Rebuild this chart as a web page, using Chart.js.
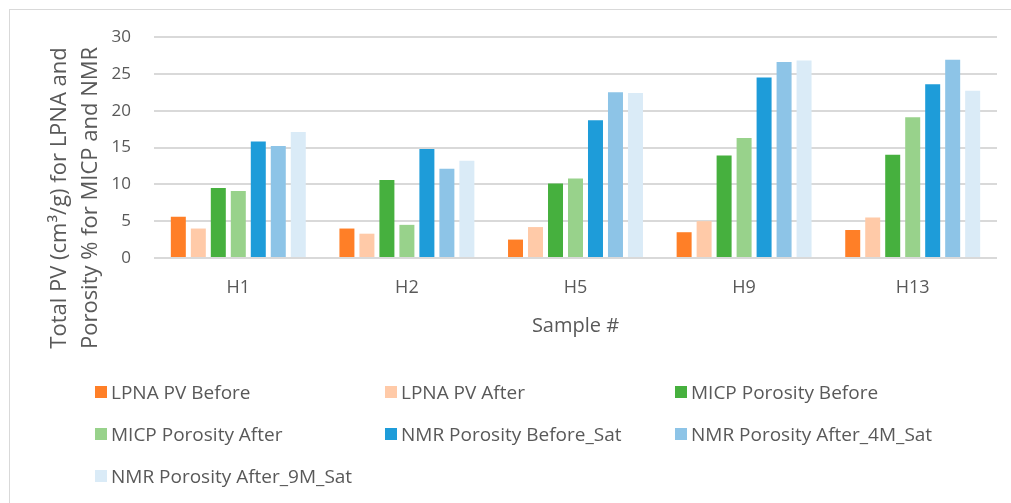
<!DOCTYPE html>
<html>
<head>
<meta charset="utf-8">
<script src="https://cdn.jsdelivr.net/npm/chart.js@4/dist/chart.umd.min.js"></script>
<style>
  html, body { margin: 0; padding: 0; background: #fff; overflow: hidden; }
  #wrap { position: relative; width: 1011px; height: 503px; font-family: "Open Sans", sans-serif; }
  #frame { position: absolute; left: 9px; top: 9px; width: 1200px; height: 700px;
           border: 1px solid #d9d9d9; box-sizing: border-box; }
  #chart { position: absolute; left: 0; top: 0; }
  #legend { position: absolute; left: 95px; top: 371px;
            display: grid; grid-template-columns: 290px 290px 290px; grid-auto-rows: 42px; }
  .item { display: flex; align-items: center; font-size: 19px; color: #595959; white-space: nowrap; }
  .swatch { width: 12px; height: 12px; margin-right: 4px; flex: none; }
</style>
</head>
<body>
<div id="wrap">
  <div id="frame"></div>
  <canvas id="chart" width="1011" height="503"></canvas>
  <div id="legend"></div>
</div>
<script>
// Samples and measured values per method
const categories = ['H1', 'H2', 'H5', 'H9', 'H13'];
const lpnaBefore  = [5.6, 4.0, 2.5, 3.5, 3.8];
const lpnaAfter   = [4.0, 3.3, 4.2, 5.0, 5.5];
const micpBefore  = [9.5, 10.6, 10.1, 13.9, 14.0];
const micpAfter   = [9.1, 4.5, 10.8, 16.3, 19.1];
const nmrBefore   = [15.8, 14.8, 18.7, 24.5, 23.6];
const nmrAfter4M  = [15.2, 12.1, 22.5, 26.6, 26.9];
const nmrAfter9M  = [17.1, 13.2, 22.4, 26.8, 22.7];

const seriesNames = ['LPNA PV Before', 'LPNA PV After', 'MICP Porosity Before', 'MICP Porosity After',
                     'NMR Porosity Before_Sat', 'NMR Porosity After_4M_Sat', 'NMR Porosity After_9M_Sat'];
const seriesValues = [lpnaBefore, lpnaAfter, micpBefore, micpAfter, nmrBefore, nmrAfter4M, nmrAfter9M];
const seriesColors = ['#FF7F27', '#FFCAA8', '#46B03E', '#98D28B', '#1E9CD9', '#8DC4E7', '#DAEBF7'];

const yMin = 0, yMax = 30, yStep = 5;
const yTitleLines = ['Total PV (cm\u00B3/g) for LPNA and', 'Porosity % for MICP and NMR'];
const xTitle = 'Sample #';

const textColor = '#595959';
const fontFamily = '"Open Sans", sans-serif';

// Axis titles drawn at fixed offsets from the plot area
const axisTitles = {
  id: 'axisTitles',
  afterDraw(chart) {
    const { ctx, chartArea } = chart;
    ctx.save();
    ctx.fillStyle = textColor;
    ctx.font = '22px ' + fontFamily;
    ctx.textAlign = 'center';
    ctx.textBaseline = 'alphabetic';
    const cy = 198;
    const baselines = [66, 97];
    yTitleLines.forEach((line, i) => {
      ctx.save();
      ctx.translate(baselines[i], cy);
      ctx.rotate(-Math.PI / 2);
      ctx.fillText(line, 0, 0);
      ctx.restore();
    });
    ctx.font = '20px ' + fontFamily;
    ctx.fillText(xTitle, (chartArea.left + chartArea.right) / 2, 332);
    ctx.restore();
  }
};

const chart = new Chart(document.getElementById('chart'), {
  type: 'bar',
  data: {
    labels: categories,
    datasets: seriesNames.map((name, i) => ({
      label: name,
      data: seriesValues[i],
      backgroundColor: seriesColors[i],
      borderWidth: 0,
      categoryPercentage: 0.83,
      barPercentage: 0.75
    }))
  },
  options: {
    responsive: false,
    animation: false,
    devicePixelRatio: 1,
    layout: { padding: { top: 37, right: 14, left: 0, bottom: 0 } },
    plugins: {
      legend: { display: false },
      tooltip: { enabled: false }
    },
    scales: {
      x: {
        grid: { display: false, drawTicks: false },
        border: { display: false },
        ticks: { color: textColor, font: { family: fontFamily, size: 18 }, padding: 19 },
        afterFit(scale) { scale.height = 245; }
      },
      y: {
        min: yMin, max: yMax,
        grid: { color: '#d9d9d9', lineWidth: 2, drawTicks: false },
        border: { display: false },
        ticks: { stepSize: yStep, color: textColor, font: { family: fontFamily, size: 17 }, padding: 23 },
        afterFit(scale) { scale.width = 154; }
      }
    }
  },
  plugins: [axisTitles]
});

// Legend laid out as a three-column grid from the chart's own legend items
const legendEl = document.getElementById('legend');
chart.options.plugins.legend.labels.generateLabels(chart).forEach(item => {
  const div = document.createElement('div');
  div.className = 'item';
  const sw = document.createElement('span');
  sw.className = 'swatch';
  sw.style.background = item.fillStyle;
  div.appendChild(sw);
  div.appendChild(document.createTextNode(item.text));
  legendEl.appendChild(div);
});
</script>
</body>
</html>
